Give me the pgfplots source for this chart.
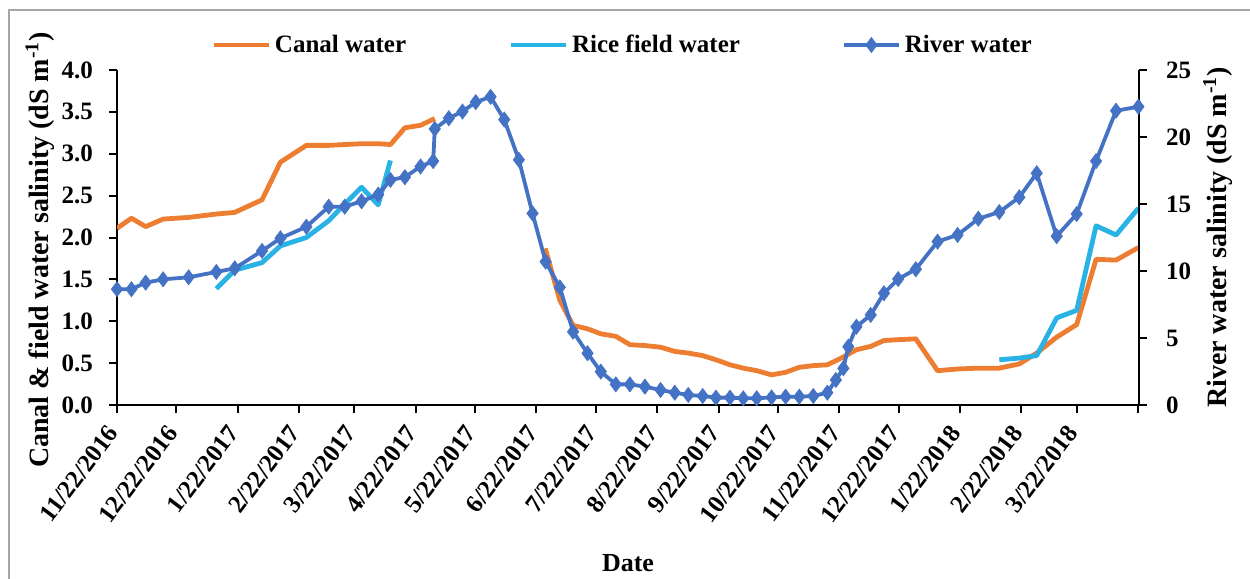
\documentclass[border=0pt]{standalone}
\usepackage{pgfplots}
\pgfplotsset{compat=1.18}
\usepackage{fontspec}
\setmainfont{Liberation Serif}
\definecolor{canal}{HTML}{ED7D31}
\definecolor{rice}{HTML}{29B2E6}
\definecolor{river}{HTML}{4472C4}
\begin{document}
\begin{tikzpicture}[x=1pt,y=1pt]
\pgfplotsset{
  base/.style={
    at={(58.5pt,87pt)}, anchor=south west, scale only axis,
    width=511pt, height=167.5pt,
    xmin=0, xmax=516.5, ymin=0,
    axis line style={line width=1pt, black},
    major tick style={line width=1pt, black},
    tick align=outside, major tick length=4pt,
    ticklabel style={font=\bfseries\fontsize{12.5}{14}\selectfont},
    /pgf/number format/assume math mode=true,
    label style={font=\bfseries\fontsize{13}{15}\selectfont},
    legend image code/.code={\draw[mark repeat=2,mark phase=2,##1] plot coordinates {(0pt,0pt) (13.75pt,0pt) (27.5pt,0pt)};},
  },
  canalst/.style={canal, line width=2.4pt, line join=round},
  ricest/.style={rice, line width=2.4pt, line join=round},
  riverst/.style={river, line width=1.9pt, mark=diamond*, mark size=3.8pt, mark options={solid, fill=river, draw=river, line width=0.3pt}},
}
\begin{axis}[base,
  axis x line*=bottom, axis y line*=left,
  ymax=4, ytick={0,0.5,1,1.5,2,2.5,3,3.5,4},
  yticklabel style={/pgf/number format/.cd, fixed, fixed zerofill, precision=1},
  yticklabel shift=4.5pt,
  xtick={0,30,61,92,120,151,181,212,242,273,304,334,365,395,426,457,485,516},
  xticklabels={11/22/2016,12/22/2016,1/22/2017,2/22/2017,3/22/2017,4/22/2017,5/22/2017,6/22/2017,7/22/2017,8/22/2017,9/22/2017,10/22/2017,11/22/2017,12/22/2017,1/22/2018,2/22/2018,3/22/2018,{}},
  xticklabel style={rotate=53, anchor=east, font=\bfseries\fontsize{12.5}{15}\selectfont},
  xticklabel shift=5pt,
  xlabel={Date},
  ylabel={Canal \& field water salinity (dS m\textsuperscript{-1})},
  xlabel style={at={(axis description cs:0.5,-0.4716)}, anchor=center},
  ylabel style={at={(axis description cs:-0.0753,0.4627)}, anchor=center, font=\bfseries\fontsize{14}{16}\selectfont},
  legend columns=3,
  legend style={draw=none, fill=none, at={(0.4956,1.0746)}, anchor=center,
    font=\bfseries\fontsize{12.5}{15}\selectfont,
    /tikz/every even column/.append style={column sep=49pt}},
]
\addplot[canalst] coordinates {
(0,2.11) (7.3,2.23) (14.5,2.13) (23.3,2.22) (36.2,2.24) (50.2,2.28) (59.5,2.30)
(73.3,2.45) (82.6,2.90) (95.7,3.10) (107,3.10) (115.1,3.11) (123.6,3.12) (132,3.12)
(138.2,3.11) (145.5,3.31) (153.4,3.34) (160.6,3.42)
};
\addlegendentry{Canal water}
\addplot[ricest] coordinates {
(50.2,1.39) (59.5,1.61) (73.3,1.70) (82.6,1.90) (95.7,2.00) (107,2.20) (115.1,2.40)
(123.6,2.60) (132,2.39) (138.2,2.92)
};
\addlegendentry{Rice field water}
\addlegendimage{riverst}
\addlegendentry{River water}
\addplot[canalst, forget plot] coordinates {
(216.4,1.87) (223.8,1.25) (230.5,0.95) (237.8,0.91) (244.5,0.85) (252.1,0.82)
(259.2,0.72) (266.8,0.71) (274.7,0.69) (281.9,0.64) (288.7,0.62) (296,0.59)
(302.7,0.54) (309.8,0.48) (316.5,0.44) (323.3,0.41) (330.8,0.36) (337.9,0.39)
(344.8,0.45) (351.9,0.47) (359,0.48) (366,0.56) (373.7,0.66) (380.9,0.70)
(387.6,0.77) (394.8,0.78) (403.7,0.79) (414.7,0.41) (424.8,0.43) (435.3,0.44)
(445.9,0.44) (456,0.49) (464.8,0.62) (474.9,0.81) (485,0.96) (494.8,1.74)
(504.9,1.73) (516.2,1.88)
};
\addplot[ricest, forget plot] coordinates {
(445.9,0.54) (456,0.56) (464.8,0.59) (474.9,1.04) (485,1.13) (494.8,2.14)
(504.9,2.03) (516.2,2.35)
};
\end{axis}
\begin{axis}[base,
  axis y line*=right, axis x line=none,
  ymax=25, ytick={0,5,10,15,20,25},
  yticklabel shift=6pt,
  ylabel={River water salinity (dS m\textsuperscript{-1})},
  ylabel style={at={(axis description cs:1.0773,0.5)}, anchor=center, font=\bfseries\fontsize{14}{16}\selectfont},
  clip=false,
]
\addplot[riverst] coordinates {
(0,8.64) (7.3,8.64) (14.5,9.13) (23.3,9.38) (36.2,9.53) (50.2,9.93) (59.5,10.2)
(73.3,11.5) (82.6,12.44) (95.7,13.3) (107,14.8) (115.1,14.8) (123.6,15.2) (132,15.7)
(138.2,16.8) (145.5,17.0) (153.4,17.8) (159.8,18.2) (160.6,20.6) (167.7,21.4)
(174.6,21.9) (181.3,22.6) (188.8,23.0) (195.7,21.3) (203.1,18.3) (210,14.3)
(216.6,10.7) (223.8,8.78) (230.5,5.47) (237.8,3.86) (244.5,2.49) (252.1,1.54)
(259.2,1.54) (266.8,1.37) (274.7,1.12) (281.9,0.92) (288.7,0.75) (296,0.67)
(302.7,0.55) (309.8,0.55) (316.5,0.5) (323.3,0.5) (330.8,0.57) (337.9,0.62)
(344.8,0.62) (351.9,0.67) (359,0.92) (363.3,1.87) (367.1,2.74) (369.6,4.35)
(373.7,5.84) (380.9,6.72) (387.6,8.34) (394.8,9.40) (403.7,10.13) (414.7,12.19)
(424.8,12.69) (435.3,13.9) (445.9,14.4) (456,15.5) (464.8,17.3) (474.9,12.6)
(485,14.25) (494.8,18.2) (504.9,21.96) (516.2,22.26)
};
\end{axis}
\draw[gray!70, line width=1pt] (4.5,0) -- (4.5,284.5) -- (625,284.5);
\pgfresetboundingbox
\useasboundingbox (0,0) rectangle (625,289.5);
\end{tikzpicture}
\end{document}
